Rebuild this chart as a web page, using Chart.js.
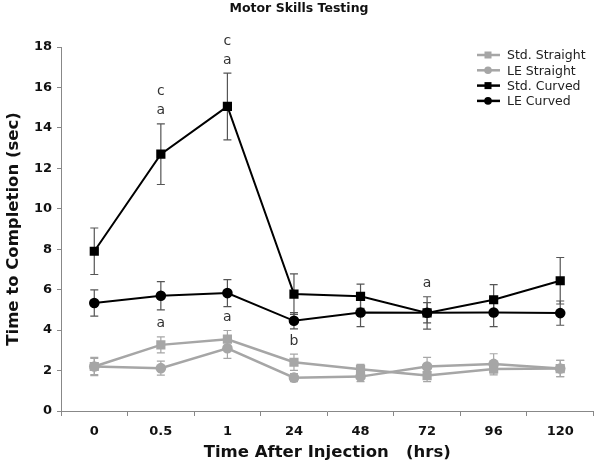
<!DOCTYPE html>
<html>
<head>
<meta charset="utf-8">
<script src="https://cdn.jsdelivr.net/npm/chart.js@4.4.0/dist/chart.umd.min.js"></script>
<style>
  html, body { margin: 0; padding: 0; background: #fff; }
  #wrap { width: 600px; height: 467px; }
</style>
</head>
<body>
<div id="wrap"><canvas id="motorChart"></canvas></div>
<script>
const hours = ['0', '0.5', '1', '24', '48', '72', '96', '120'];

const stdStraight = [2.2, 3.27, 3.55, 2.41, 2.06, 1.75, 2.08, 2.1];
const leStraight  = [2.2, 2.12, 3.1, 1.65, 1.7, 2.2, 2.33, 2.1];
const stdCurved   = [7.9, 12.7, 15.06, 5.78, 5.67, 4.85, 5.5, 6.44];
const leCurved    = [5.34, 5.7, 5.83, 4.46, 4.87, 4.86, 4.87, 4.84];

const stdStraightErr = [0.45, 0.4, 0.43, 0.4, 0.25, 0.3, 0.3, 0.4];
const leStraightErr  = [0.4, 0.35, 0.5, 0.2, 0.25, 0.45, 0.5, 0.4];
const stdCurvedErr   = [1.15, 1.5, 1.65, 1.0, 0.6, 0.8, 0.75, 1.15];
const leCurvedErr    = [0.65, 0.7, 0.67, 0.4, 0.7, 0.5, 0.7, 0.6];

// significance letters: which hour, which series it sits over, letters from top down
const markHours  = ['0.5', '1', '0.5', '1', '24', '72'];
const markSeries = [2, 2, 0, 0, 0, 2];
const markText   = [['c', 'a'], ['c', 'a'], ['a'], ['a'], ['b'], ['a']];

const gray = '#a6a6a6';
const errs = [stdStraightErr, leStraightErr, stdCurvedErr, leCurvedErr];

const errorBars = {
  id: 'errorBars',
  beforeDatasetsDraw(chart) {
    const ctx = chart.ctx, x = chart.scales.x, y = chart.scales.y;
    ctx.save();
    chart.data.datasets.forEach((ds, i) => {
      ctx.strokeStyle = i < 2 ? gray : '#555';
      ctx.lineWidth = 1.2;
      ds.data.forEach((v, j) => {
        const px = x.getPixelForValue(j);
        const top = y.getPixelForValue(v + errs[i][j]);
        const bot = y.getPixelForValue(v - errs[i][j]);
        ctx.beginPath();
        ctx.moveTo(px, top); ctx.lineTo(px, bot);
        ctx.moveTo(px - 4, top); ctx.lineTo(px + 4, top);
        ctx.moveTo(px - 4, bot); ctx.lineTo(px + 4, bot);
        ctx.stroke();
      });
    });
    ctx.restore();
  },
  afterDatasetsDraw(chart) {
    const ctx = chart.ctx, x = chart.scales.x, y = chart.scales.y;
    ctx.save();
    ctx.font = '14px "DejaVu Sans"';
    ctx.fillStyle = '#333';
    ctx.textAlign = 'center';
    ctx.textBaseline = 'middle';
    markHours.forEach((h, k) => {
      const j = hours.indexOf(h), s = markSeries[k];
      const v = chart.data.datasets[s].data[j];
      const px = x.getPixelForValue(j);
      const top = y.getPixelForValue(v + errs[s][j]);
      const letters = markText[k];
      letters.forEach((t, n) => {
        const off = 13 + (letters.length - 1 - n) * 19;
        ctx.fillText(t, px, top - off);
      });
    });
    // legend
    ctx.font = '12.5px "DejaVu Sans"';
    ctx.textAlign = 'left';
    chart.data.datasets.forEach((ds, i) => {
      const ly = 55 + i * 15.3;
      ctx.strokeStyle = ds.borderColor;
      ctx.lineWidth = 2.5;
      ctx.beginPath(); ctx.moveTo(477, ly); ctx.lineTo(500, ly); ctx.stroke();
      ctx.fillStyle = ds.borderColor;
      if (ds.pointStyle === 'rect') {
        ctx.fillRect(484.5, ly - 3.5, 7, 7);
      } else {
        ctx.beginPath(); ctx.arc(488, ly, 3.8, 0, Math.PI * 2); ctx.fill();
      }
      ctx.fillStyle = '#222';
      ctx.fillText(ds.label, 507, ly + 1);
    });
    ctx.restore();
  }
};

function series(label, data, color, style, width) {
  return {
    label: label,
    data: data,
    borderColor: color,
    backgroundColor: color,
    borderWidth: width,
    pointStyle: style,
    pointRadius: style === 'rect' ? 6.5 : 5.3,
    pointBorderWidth: 0,
    tension: 0
  };
}

new Chart(document.getElementById('motorChart'), {
  type: 'line',
  data: {
    labels: hours,
    datasets: [
      series('Std. Straight', stdStraight, gray, 'rect', 2.5),
      series('LE Straight', leStraight, gray, 'circle', 2.5),
      series('Std. Curved', stdCurved, '#000', 'rect', 2),
      series('LE Curved', leCurved, '#000', 'circle', 2)
    ]
  },
  options: {
    responsive: true,
    maintainAspectRatio: false,
    animation: false,
    layout: { padding: { top: 0, right: 2, left: 0, bottom: 0 } },
    plugins: {
      legend: { display: false },
      tooltip: { enabled: false },
      title: {
        display: true,
        text: 'Motor Skills Testing',
        color: '#111',
        font: { family: 'DejaVu Sans', size: 12.5, weight: 'bold' },
        padding: { top: 1, bottom: 31 }
      }
    },
    scales: {
      x: {
        offset: true,
        border: { color: '#888', width: 1 },
        grid: { offset: true, drawOnChartArea: false, drawTicks: true, tickLength: 5, color: '#888' },
        ticks: { color: '#111', padding: 8, font: { family: 'DejaVu Sans', size: 13, weight: 'bold' } },
        title: {
          display: true,
          text: 'Time After Injection   (hrs)',
          color: '#111',
          font: { family: 'DejaVu Sans', size: 16.5, weight: 'bold' },
          padding: { top: 1 }
        },
        afterFit(scale) { scale.height = 56; }
      },
      y: {
        min: 0,
        max: 18,
        border: { color: '#888', width: 1 },
        grid: { drawOnChartArea: false, drawTicks: true, tickLength: 4, color: '#888' },
        ticks: { stepSize: 2, color: '#111', padding: 5, font: { family: 'DejaVu Sans', size: 13, weight: 'bold' } },
        title: {
          display: true,
          text: 'Time to Completion (sec)',
          color: '#111',
          font: { family: 'DejaVu Sans', size: 16.5, weight: 'bold' },
          padding: { bottom: 0 }
        },
        afterFit(scale) { scale.width = 61; }
      }
    }
  },
  plugins: [errorBars]
});
</script>
</body>
</html>
